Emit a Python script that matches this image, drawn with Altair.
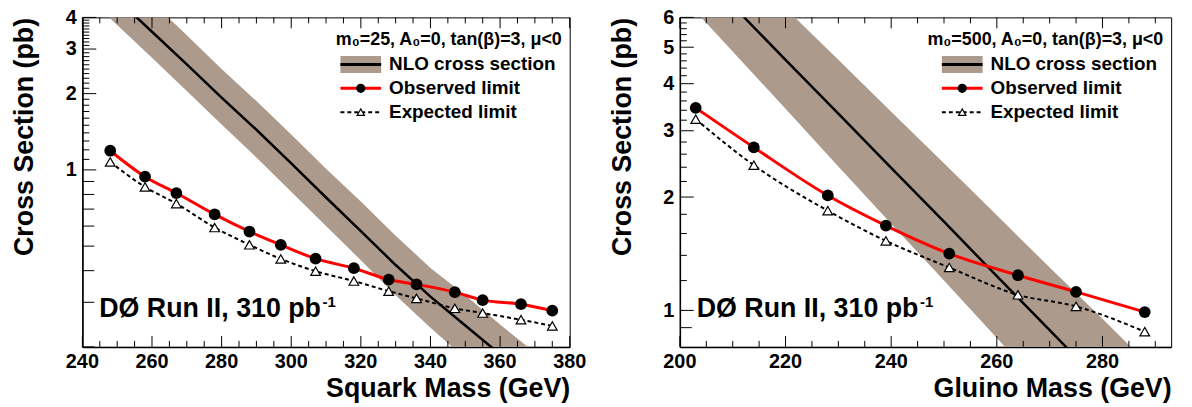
import altair as alt
import pandas as pd

FONT = "Liberation Sans"
BAND = "#ac9a8c"

# ---------------- Left panel: squark mass (m0=25) ----------------
sq_mass = [248, 258, 267, 278, 288, 297, 307, 318, 328, 336, 347, 355, 366, 375]
sq_obs = [1.19, 0.94, 0.81, 0.667, 0.571, 0.506, 0.446, 0.409, 0.369, 0.353, 0.329, 0.306, 0.295, 0.278]
sq_exp = [1.075, 0.856, 0.736, 0.592, 0.506, 0.445, 0.398, 0.364, 0.332, 0.311, 0.284, 0.272, 0.256, 0.242]
sq_nlo_mass = [240, 250, 260, 270, 280, 290, 300, 310, 320, 330, 340, 350, 360, 370, 380]
sq_nlo = [6.37, 4.72, 3.51, 2.61, 1.93, 1.44, 1.06, 0.778, 0.573, 0.421, 0.316, 0.243, 0.187, 0.144, 0.111]
sq_nlo_lo = [5.03, 3.73, 2.77, 2.05, 1.51, 1.12, 0.82, 0.60, 0.44, 0.32, 0.238, 0.18, 0.137, 0.105, 0.081]
sq_nlo_hi = [8.3, 6.1, 4.6, 3.4, 2.5, 1.87, 1.38, 1.01, 0.75, 0.55, 0.41, 0.32, 0.245, 0.19, 0.145]
sq_x_major = [240, 260, 280, 300, 320, 340, 360, 380]
sq_x_minor = [245, 250, 255, 265, 270, 275, 285, 290, 295, 305, 310, 315, 325, 330, 335,
              345, 350, 355, 365, 370, 375]
sq_y_major = [1, 2, 3, 4]
sq_y_mid = [0.2, 0.3, 0.4, 0.5, 0.6, 0.7, 0.8, 0.9]
sq_y_minor = [1.1, 1.2, 1.3, 1.4, 1.5, 1.6, 1.7, 1.8, 1.9, 2.1, 2.2, 2.3, 2.4, 2.5, 2.6, 2.7, 2.8, 2.9,
              3.1, 3.2, 3.3, 3.4, 3.5, 3.6, 3.7, 3.8, 3.9]
sq_header = "m₀=25, A₀=0, tan(β)=3, μ<0"

# ---------------- Right panel: gluino mass (m0=500) ----------------
gl_mass = [203, 214, 228, 239, 251, 264, 275, 288]
gl_obs = [3.45, 2.71, 2.02, 1.68, 1.415, 1.24, 1.12, 0.99]
gl_exp = [3.22, 2.43, 1.84, 1.53, 1.30, 1.10, 1.025, 0.878]
gl_nlo_mass = [200, 210, 220, 230, 240, 250, 260, 270, 280, 290, 300]
gl_nlo = [8.98, 6.45, 4.63, 3.33, 2.39, 1.72, 1.233, 0.886, 0.637, 0.457, 0.329]
gl_nlo_lo = [6.91, 4.87, 3.43, 2.41, 1.70, 1.20, 0.845, 0.594, 0.417, 0.292, 0.207]
gl_nlo_hi = [11.9, 8.7, 6.34, 4.63, 3.37, 2.46, 1.79, 1.30, 0.95, 0.69, 0.503]
gl_x_major = [200, 220, 240, 260, 280]
gl_x_minor = [205, 210, 215, 225, 230, 235, 245, 250, 255, 265, 270, 275, 285, 290]
gl_y_major = [1, 2, 3, 4, 5, 6]
gl_y_mid = [0.9]
gl_y_minor = [1.2, 1.4, 1.6, 1.8, 2.2, 2.4, 2.6, 2.8, 3.2, 3.4, 3.6, 3.8, 4.2, 4.4, 4.6, 4.8,
              5.2, 5.4, 5.6, 5.8]
gl_header = "m₀=500, A₀=0, tan(β)=3, μ<0"

legend_labels = ["NLO cross section", "Observed limit", "Expected limit"]
experiment_label = "DØ Run II, 310 pb"
lumi_sup = "-1"
y_title = "Cross Section (pb)"

H = 332


def panel(mass, obs, exp, nmass, nlo, lo, hi, xdom, ydom, xmaj, xmin, ymaj, ymid, ymin,
          xtitle, header, W):
    xs = alt.Scale(domain=xdom, nice=False, zero=False)
    ys = alt.Scale(type="log", domain=ydom, nice=False)
    xax = alt.Axis(values=xmaj, labels=False, titleAnchor="end", titlePadding=29)
    yax = alt.Axis(values=ymaj, format="d", titleAnchor="end", labelPadding=6, titlePadding=27)

    def X(f):
        return alt.X(f, scale=xs, title=xtitle, axis=xax)

    def Y(f):
        return alt.Y(f, scale=ys, title=y_title, axis=yax)

    band_df = pd.DataFrame({"m": nmass, "c": nlo, "lo": lo, "hi": hi})
    lim_df = pd.DataFrame({"m": mass, "obs": obs, "exp": exp})
    one = pd.DataFrame({"a": [0]})

    band = alt.Chart(band_df).mark_area(color=BAND, clip=True).encode(
        x=X("m:Q"), y=Y("lo:Q"), y2="hi:Q")
    cline = alt.Chart(band_df).mark_line(color="black", strokeWidth=2.5, clip=True).encode(
        x=X("m:Q"), y=Y("c:Q"))
    exp_line = alt.Chart(lim_df).mark_line(color="black", strokeWidth=2, strokeDash=[4, 3],
                                           interpolate="monotone").encode(x=X("m:Q"), y=Y("exp:Q"))
    exp_pts = alt.Chart(lim_df).mark_point(shape="triangle-up", size=95, filled=True,
                                           fill="white", stroke="black", strokeWidth=1.2,
                                           opacity=1).encode(x=X("m:Q"), y=Y("exp:Q"))
    obs_line = alt.Chart(lim_df).mark_line(color="#ff0000", strokeWidth=3,
                                           interpolate="monotone").encode(x=X("m:Q"), y=Y("obs:Q"))
    obs_pts = alt.Chart(lim_df).mark_circle(color="black", size=140, opacity=1).encode(
        x=X("m:Q"), y=Y("obs:Q"))

    def yt(vals, ln):
        return alt.Chart(pd.DataFrame({"v": vals})).mark_rule(color="black", strokeWidth=1).encode(
            y=Y("v:Q"), x=alt.value(0), x2=alt.value(ln))

    def xb(vals, ln):
        return alt.Chart(pd.DataFrame({"v": vals})).mark_rule(color="black", strokeWidth=1).encode(
            x=X("v:Q"), y=alt.value(H), y2=alt.value(H - ln))

    def xt(vals, ln):
        return alt.Chart(pd.DataFrame({"v": vals})).mark_rule(color="black", strokeWidth=1).encode(
            x=X("v:Q"), y=alt.value(0), y2=alt.value(ln))

    ticks = [yt(ymaj, 14), yt(ymid, 12), yt(ymin, 7),
             xb(xmaj, 11), xb(xmin, 6), xt(xmaj, 11), xt(xmin, 6)]

    # x tick labels placed through the x scale
    xlabels = alt.Chart(pd.DataFrame({"v": xmaj})).mark_text(
        baseline="top", align="center", fontSize=20, fontWeight="bold", font=FONT, color="black"
    ).encode(x=X("v:Q"), y=alt.value(H + 5), text=alt.Text("v:Q", format="d"))

    # legend (guide drawn in pixel space)
    sx0, sx1 = W - 231, W - 190
    sxc = (sx0 + sx1) / 2
    tx = W - 182
    base = alt.Chart(one)
    leg = [
        base.mark_text(align="right", baseline="middle", fontSize=18, fontWeight="bold",
                       font=FONT).encode(x=alt.value(W - 8), y=alt.value(23), text=alt.value(header)),
        base.mark_rect(color=BAND).encode(x=alt.value(sx0), x2=alt.value(sx1),
                                          y=alt.value(39), y2=alt.value(56)),
        base.mark_rule(color="black", strokeWidth=3).encode(x=alt.value(sx0), x2=alt.value(sx1),
                                                            y=alt.value(47.5)),
        base.mark_rule(color="#ff0000", strokeWidth=3).encode(x=alt.value(sx0), x2=alt.value(sx1),
                                                              y=alt.value(71.5)),
        base.mark_circle(color="black", size=85, opacity=1).encode(x=alt.value(sxc), y=alt.value(71.5)),
        base.mark_rule(color="black", strokeWidth=2, strokeDash=[4, 3]).encode(
            x=alt.value(sx0), x2=alt.value(sx1), y=alt.value(95.5)),
        base.mark_point(shape="triangle-up", size=55, filled=True, fill="white", stroke="black",
                        strokeWidth=1.2, opacity=1).encode(x=alt.value(sxc), y=alt.value(95.5)),
    ]
    for lab, yy in zip(legend_labels, [47.5, 71.5, 95.5]):
        leg.append(base.mark_text(align="left", baseline="middle", fontSize=19, fontWeight="bold",
                                  font=FONT).encode(x=alt.value(tx), y=alt.value(yy),
                                                    text=alt.value(lab)))
    leg.append(base.mark_text(align="left", baseline="alphabetic", fontSize=27, fontWeight="bold",
                              font=FONT).encode(x=alt.value(17), y=alt.value(302),
                                                text=alt.value(experiment_label)))
    leg.append(base.mark_text(align="left", baseline="alphabetic", fontSize=15, fontWeight="bold",
                              font=FONT).encode(x=alt.value(242), y=alt.value(292),
                                                text=alt.value(lumi_sup)))
    # invisible guard marks just past the right end of the x axis (reserve room there)
    leg.append(base.mark_text(align="center", baseline="top", fontSize=20, opacity=0).encode(
        x=alt.value(W - 12), y=alt.value(H + 5), text=alt.value("A")))
    leg.append(base.mark_text(align="center", baseline="top", fontSize=20, opacity=0).encode(
        x=alt.value(W + 8), y=alt.value(H + 5), text=alt.value("B")))

    return alt.layer(band, cline, exp_line, obs_line, exp_pts, obs_pts, *ticks, xlabels,
                     *leg).properties(width=W, height=H)


left = panel(sq_mass, sq_obs, sq_exp, sq_nlo_mass, sq_nlo, sq_nlo_lo, sq_nlo_hi,
             [240, 380], [0.2, 4], sq_x_major, sq_x_minor, sq_y_major, sq_y_mid, sq_y_minor,
             "Squark Mass (GeV)", sq_header, 491)
right = panel(gl_mass, gl_obs, gl_exp, gl_nlo_mass, gl_nlo, gl_nlo_lo, gl_nlo_hi,
              [200, 293], [0.8, 6], gl_x_major, gl_x_minor, gl_y_major, gl_y_mid, gl_y_minor,
              "Gluino Mass (GeV)", gl_header, 495)

chart = alt.hconcat(left, right, spacing=20).configure(
    font=FONT, padding={"left": 10, "top": 5, "right": 5, "bottom": 0}
).configure_view(stroke="black", strokeWidth=1).configure_axis(
    labelFont=FONT, labelFontSize=20, labelFontWeight="bold", labelColor="black",
    titleFont=FONT, titleFontSize=27, titleFontWeight="bold", titleColor="black",
    domainColor="black", domainWidth=1.5, grid=False, ticks=False, tickSize=0,
    labelFlush=False, labelOverlap=False,
)

chart.save("out.html", embed_options={"renderer": "svg", "actions": False})
